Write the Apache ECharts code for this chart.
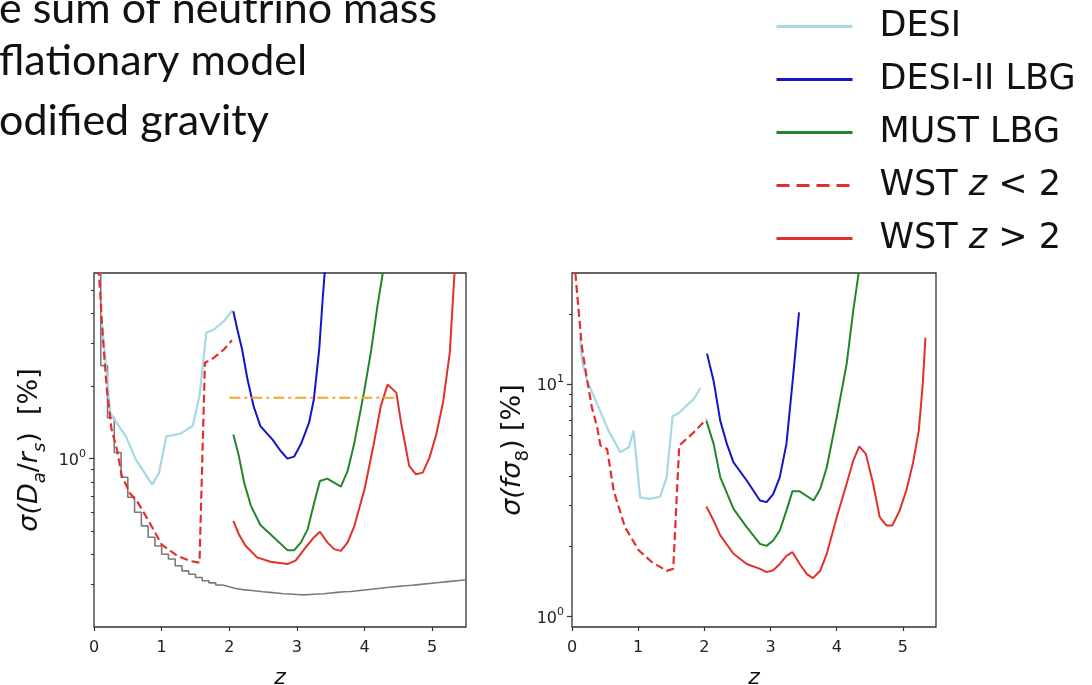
<!DOCTYPE html>
<html><head><meta charset="utf-8">
<script src="https://cdn.jsdelivr.net/npm/echarts@6/dist/echarts.min.js"></script>
<style>html,body{margin:0;padding:0;background:#fff}#c{width:1092px;height:685px}</style>
</head><body><div id="c"></div><script>
// ---------- data ----------
const xTicks = [0, 1, 2, 3, 4, 5];
const leftMajor = [1];
const leftMinor = [0.3, 0.4, 0.5, 0.6, 0.7, 0.8, 0.9, 2, 3, 4, 5];
const rightMajor = [1, 10];
const rightMinor = [2, 3, 4, 5, 6, 7, 8, 9, 20];
const titleLines = ['e sum of neutrino mass', 'flationary model', 'odified gravity'];
const seriesNames = ['DESI', 'DESI-II LBG', 'MUST LBG', 'WST z<2', 'WST z>2'];

// Left panel: sigma(D_a/r_s) [%]
const daDesi = [[0.12,3.6],[0.24,1.55],[0.34,1.40],[0.47,1.24],[0.62,0.99],[0.86,0.78],[0.96,0.87],[1.07,1.24],[1.16,1.25],[1.28,1.27],[1.46,1.37],[1.56,1.82],[1.66,3.33],[1.77,3.43],[1.92,3.72],[2.05,4.13]];
const daDesi2 = [[2.06,4.09],[2.12,3.43],[2.19,2.84],[2.27,2.13],[2.36,1.65],[2.46,1.365],[2.64,1.20],[2.76,1.076],[2.86,1.0],[2.96,1.02],[3.06,1.15],[3.18,1.41],[3.25,1.76],[3.33,2.84],[3.38,4.57],[3.41,5.9],[3.45,8]];
const daMust = [[2.06,1.26],[2.14,1.03],[2.22,0.795],[2.32,0.637],[2.46,0.53],[2.66,0.471],[2.86,0.417],[2.96,0.417],[3.06,0.449],[3.16,0.51],[3.25,0.647],[3.34,0.808],[3.45,0.826],[3.65,0.766],[3.75,0.889],[3.85,1.165],[4.0,1.94],[4.1,2.84],[4.19,4.29],[4.27,5.9],[4.3,7]];
const daWstLow = [[0.065,6.2],[0.09,5.0],[0.13,3.2],[0.19,1.94],[0.26,1.32],[0.34,1.09],[0.41,0.85],[0.53,0.72],[0.645,0.66],[0.81,0.55],[1.0,0.44],[1.23,0.395],[1.42,0.376],[1.56,0.37],[1.64,2.5],[1.77,2.62],[1.92,2.84],[2.04,3.1]];
const daWstHigh = [[2.06,0.552],[2.14,0.486],[2.24,0.435],[2.41,0.389],[2.61,0.373],[2.86,0.365],[2.98,0.377],[3.11,0.421],[3.25,0.471],[3.34,0.497],[3.45,0.449],[3.55,0.421],[3.65,0.414],[3.75,0.449],[3.85,0.526],[4.0,0.746],[4.14,1.165],[4.24,1.65],[4.34,2.03],[4.47,1.88],[4.54,1.41],[4.66,0.933],[4.76,0.861],[4.86,0.875],[4.96,1.01],[5.06,1.26],[5.16,1.71],[5.26,2.75],[5.33,5.9],[5.35,7]];
const daLimit = [[0.0,10],[0.1,2.43],[0.2,1.48],[0.3,1.06],[0.4,0.837],[0.5,0.691],[0.6,0.599],[0.7,0.526],[0.8,0.472],[0.9,0.434],[1.0,0.401],[1.1,0.383],[1.2,0.359],[1.3,0.342],[1.4,0.331],[1.5,0.321],[1.6,0.311],[1.7,0.305],[1.8,0.299],[1.9,0.294],[2.0,0.289],[2.1,0.286],[2.2,0.284],[2.3,0.282],[2.4,0.28],[2.5,0.2785],[2.6,0.277],[2.7,0.275],[2.8,0.274],[2.9,0.273],[3.0,0.272],[3.1,0.273],[3.2,0.274],[3.3,0.275],[3.4,0.277],[3.5,0.2785],[3.6,0.28],[3.7,0.281],[3.8,0.283],[3.9,0.285],[4.0,0.287],[4.1,0.289],[4.2,0.291],[4.3,0.293],[4.4,0.295],[4.5,0.2965],[4.6,0.298],[4.7,0.3],[4.8,0.302],[4.9,0.304],[5.0,0.306],[5.1,0.308],[5.2,0.31],[5.3,0.312],[5.4,0.314],[5.5,0.316]];
const daTarget = [[2.0,1.79],[4.48,1.79]];

// Right panel: sigma(f sigma_8) [%]
const fsDesi = [[0.12,16],[0.15,12.6],[0.23,10.3],[0.38,8.2],[0.55,6.3],[0.73,5.08],[0.86,5.34],[0.93,6.3],[1.03,3.25],[1.16,3.2],[1.33,3.27],[1.43,3.97],[1.52,7.26],[1.61,7.48],[1.84,8.62],[1.94,9.6]];
const fsDesi2 = [[2.04,13.5],[2.14,10.3],[2.24,6.95],[2.34,5.52],[2.44,4.6],[2.64,3.84],[2.84,3.15],[2.94,3.1],[3.04,3.36],[3.14,3.97],[3.24,5.52],[3.34,10.7],[3.43,20.3]];
const fsMust = [[2.03,6.95],[2.14,5.52],[2.24,3.97],[2.44,2.9],[2.64,2.42],[2.84,2.05],[2.94,2.01],[3.04,2.12],[3.14,2.34],[3.24,2.85],[3.33,3.45],[3.44,3.45],[3.65,3.15],[3.75,3.53],[3.85,4.38],[4.0,7.19],[4.15,12.2],[4.25,20.7],[4.33,29.8],[4.38,40]];
const fsWstLow = [[0.05,30],[0.1,20.7],[0.15,14.4],[0.23,10.3],[0.3,7.94],[0.38,6.51],[0.43,5.43],[0.53,5.25],[0.63,3.47],[0.8,2.42],[1.01,1.92],[1.21,1.71],[1.43,1.57],[1.53,1.6],[1.62,5.43],[1.84,6.19],[2.03,7.06]];
const fsWstHigh = [[2.03,2.97],[2.14,2.58],[2.24,2.23],[2.44,1.86],[2.64,1.68],[2.84,1.6],[2.94,1.55],[3.04,1.58],[3.14,1.68],[3.24,1.82],[3.33,1.89],[3.44,1.68],[3.55,1.52],[3.64,1.46],[3.75,1.57],[3.85,1.86],[4.0,2.67],[4.15,3.72],[4.25,4.68],[4.34,5.39],[4.44,5.0],[4.55,3.72],[4.65,2.67],[4.75,2.46],[4.84,2.46],[4.95,2.85],[5.05,3.47],[5.15,4.53],[5.24,6.3],[5.3,10],[5.34,15.8]];

// ---------- styling ----------
const FONT = 'DejaVu Sans';
const C = {desi:'#a8d8e4', desi2:'#1414c8', must:'#24862a', wst:'#e2302e', gray:'#7a7a7a', orange:'#f2a52c'};

function line(name, data, xi, yi, color, width, type, extra) {
  return Object.assign({
    name: name, type: 'line', data: data, xAxisIndex: xi, yAxisIndex: yi,
    symbol: 'none', showSymbol: false, clip: true, silent: true, animation: false,
    lineStyle: {color: color, width: width, type: type || 'solid'},
    itemStyle: {color: color}
  }, extra || {});
}

function xAxis(gi) {
  return {
    type: 'value', gridIndex: gi, min: 0, max: 5.5,
    name: 'z', nameLocation: 'middle', nameGap: 40,
    nameTextStyle: {fontFamily: FONT, fontSize: 22, fontStyle: 'italic', color: '#111'},
    axisLine: {show: false},
    axisTick: {show: true, inside: false, length: 4, customValues: xTicks, lineStyle: {color: '#333', width: 1.2}},
    axisLabel: {customValues: xTicks, margin: 13, fontFamily: FONT, fontSize: 16, color: '#222'},
    splitLine: {show: false}
  };
}
function yMajor(gi, min, max, ticks, name, rich, gap) {
  return {
    type: 'log', logBase: 10, gridIndex: gi, min: min, max: max, position: 'left',
    name: name, nameLocation: 'middle', nameGap: gap, nameRotate: 90,
    nameTextStyle: {fontFamily: FONT, fontSize: 27, color: '#111', rich: rich},
    axisLine: {show: false},
    axisTick: {show: true, inside: false, length: 5, customValues: ticks, lineStyle: {color: '#333', width: 1.2}},
    axisLabel: {customValues: ticks, margin: 8, fontFamily: FONT, fontSize: 16, color: '#222',
      formatter: function (v) { return '{b|10}{p|' + Math.round(Math.log10(v)) + '}'; },
      rich: {
        b: {fontFamily: FONT, fontSize: 16, lineHeight: 20, verticalAlign: 'bottom', color: '#222'},
        p: {fontFamily: FONT, fontSize: 11, lineHeight: 9, verticalAlign: 'top', color: '#222'}
      }},
    splitLine: {show: false}, minorTick: {show: false}
  };
}
function yMinor(gi, min, max, ticks) {
  return {
    type: 'log', logBase: 10, gridIndex: gi, min: min, max: max, position: 'left',
    axisLine: {show: false},
    axisTick: {show: true, inside: false, length: 3, customValues: ticks, lineStyle: {color: '#333', width: 1}},
    axisLabel: {show: false}, splitLine: {show: false}
  };
}
const mainR = {fontFamily: FONT, fontSize: 27, lineHeight: 33, verticalAlign: 'top', color: '#111'};
const itR = Object.assign({}, mainR, {fontStyle: 'italic'});
const subR = {fontFamily: FONT, fontSize: 18, lineHeight: 18, verticalAlign: 'bottom', color: '#111', fontStyle: 'italic'};
const subN = Object.assign({}, subR, {fontStyle: 'normal'});
const richY = {m: mainR, i: itR, s: subR, n: subN};

const gridBase = {top: 273, height: 354, show: true, borderColor: '#333', borderWidth: 1.3,
  backgroundColor: 'transparent', containLabel: false, outerBoundsMode: 'none'};

const chart = echarts.init(document.getElementById('c'), null, {renderer: 'canvas'});
chart.setOption({
  backgroundColor: '#fff',
  animation: false,
  grid: [
    Object.assign({left: 94, width: 372}, gridBase),
    Object.assign({left: 572, width: 364}, gridBase)
  ],
  xAxis: [xAxis(0), xAxis(1)],
  yAxis: [
    yMajor(0, 0.2, 5.9, leftMajor, '{i|σ(D}{s|a}{m|/}{i|r}{s|s}{m|)  [%]}', richY, 45),
    yMinor(0, 0.2, 5.9, leftMinor),
    yMajor(1, 0.9, 30, rightMajor, '{i|σ(fσ}{n|8}{m|) [%]}', richY, 36),
    yMinor(1, 0.9, 30, rightMinor)
  ],
  legend: {
    data: [
      {name: seriesNames[0]},
      {name: seriesNames[1]},
      {name: seriesNames[2]},
      {name: seriesNames[3], lineStyle: {type: [13, 7], width: 3}},
      {name: seriesNames[4]}
    ],
    orient: 'vertical', left: 775, top: 9, padding: 0,
    itemWidth: 76, itemHeight: 14, itemGap: 18,
    lineStyle: {width: 3},
    itemStyle: {opacity: 0},
    selectedMode: false,
    textStyle: {fontFamily: FONT, fontSize: 35, lineHeight: 35, color: '#111', padding: [0, 0, 0, 22],
      rich: {i: {fontFamily: FONT, fontSize: 35, fontStyle: 'italic', color: '#111'}}},
    formatter: function (n) {
      if (n === 'WST z<2') return 'WST {i|z} < 2';
      if (n === 'WST z>2') return 'WST {i|z} > 2';
      return n;
    }
  },
  graphic: titleLines.map(function (t, k) {
    return {type: 'text', left: -1, top: [-12, 40, 100][k], silent: true,
      style: {text: t, font: '43px Lato', fill: '#111'}};
  }),
  series: [
    line('limit', daLimit, 0, 0, C.gray, 1.6, 'solid', {step: 'end'}),
    line(seriesNames[0], daDesi, 0, 0, C.desi, 2.2),
    line(seriesNames[3], daWstLow, 0, 0, C.wst, 2.2, [8, 4]),
    line(seriesNames[1], daDesi2, 0, 0, C.desi2, 2),
    line(seriesNames[2], daMust, 0, 0, C.must, 2),
    line(seriesNames[4], daWstHigh, 0, 0, C.wst, 2),
    line('target', daTarget, 0, 0, C.orange, 2.2, [11, 4, 3, 4]),
    line(seriesNames[0], fsDesi, 1, 2, C.desi, 2.2),
    line(seriesNames[3], fsWstLow, 1, 2, C.wst, 2.2, [8, 4]),
    line(seriesNames[1], fsDesi2, 1, 2, C.desi2, 2),
    line(seriesNames[2], fsMust, 1, 2, C.must, 2),
    line(seriesNames[4], fsWstHigh, 1, 2, C.wst, 2)
  ]
});
</script></body></html>
